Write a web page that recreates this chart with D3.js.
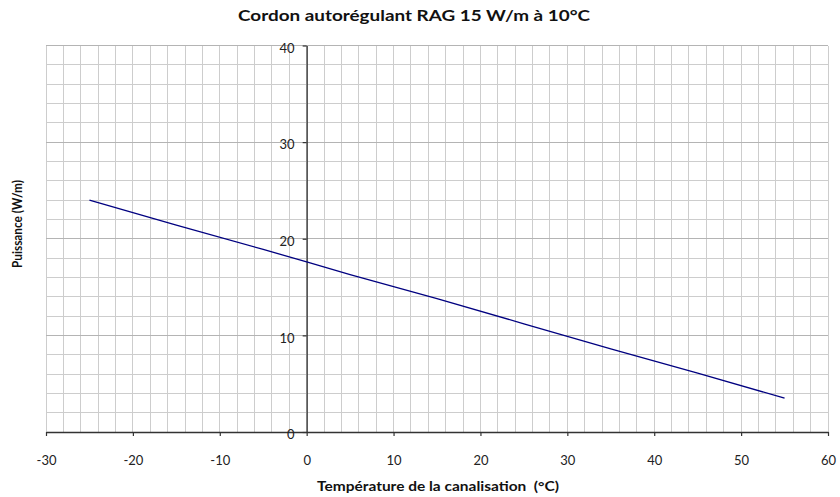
<!DOCTYPE html>
<html><head><meta charset="utf-8">
<script src="https://cdn.jsdelivr.net/npm/d3@7"></script>
<style>body{margin:0;background:#fff}svg{display:block}</style>
</head><body>
<script>
const temps = [-25, -15, -5, 0, 5, 15, 25, 35, 45, 55];
const power = [24.0, 21.4, 18.9, 17.6, 16.3, 13.8, 11.2, 8.6, 6.1, 3.5];
const xTicks = [-30, -20, -10, 0, 10, 20, 30, 40, 50, 60];
const yTicks = [0, 10, 20, 30, 40];
const title = "Cordon autorégulant RAG 15 W/m à 10°C";
const xLabel = "Température de la canalisation\u00a0 (°C)";
const yLabel = "Puissance (W/m)";

const W = 840, H = 497;
const font = "Lato, 'Open Sans', 'Liberation Sans', sans-serif";
const svg = d3.select("body").append("svg").attr("width", W).attr("height", H);
const x = d3.scaleLinear().domain([-30, 60]).range([46, 828]);
const y = d3.scaleLinear().domain([0, 40]).range([432, 45.5]);

const g = svg.append("g");
const xm = d3.range(-30, 61, 2), ym = d3.range(0, 41, 2);
g.selectAll(".vx").data(xm).join("line")
  .attr("x1", d => x(d)).attr("x2", d => x(d)).attr("y1", y(0)).attr("y2", y(40))
  .attr("stroke", "#cdcdcd").attr("stroke-width", 1).attr("shape-rendering", "crispEdges");
g.selectAll(".hy").data(ym).join("line")
  .attr("y1", d => y(d)).attr("y2", d => y(d)).attr("x1", x(-30)).attr("x2", x(60))
  .attr("stroke", d => d % 10 === 0 ? "#b4b4b4" : "#cdcdcd").attr("stroke-width", 1).attr("shape-rendering", "crispEdges");

const fmt = d => String(d);
const xAxis = d3.axisBottom(x).tickValues(xTicks).tickFormat(fmt).tickSize(4).tickSizeOuter(0).tickPadding(20);
const yAxis = d3.axisLeft(y).tickValues(yTicks).tickFormat(fmt).tickSize(4).tickSizeOuter(0).tickPadding(8);
const ax = svg.append("g").attr("transform", `translate(0,${y(0)})`).call(xAxis);
const ay = svg.append("g").attr("transform", `translate(${x(0)},0)`).call(yAxis);
[ax, ay].forEach(a => {
  a.select(".domain").attr("stroke", "#333").attr("stroke-width", 1.3);
  a.selectAll(".tick line").attr("stroke", "#333").attr("stroke-width", 1.2);
  a.selectAll("text").attr("font-family", font).attr("font-size", 13).attr("fill", "#222");
});
ay.selectAll(".tick text").attr("dy", "0.52em");

svg.append("path").datum(temps.map((t, i) => [t, power[i]]))
  .attr("d", d3.line().x(d => x(d[0])).y(d => y(d[1])))
  .attr("fill", "none").attr("stroke", "#000080").attr("stroke-width", 1.3);

svg.append("text").attr("x", 414).attr("y", 21).attr("text-anchor", "middle")
  .attr("font-family", font).attr("font-weight", "bold").attr("font-size", 16).attr("fill", "#111")
  .attr("textLength", 352).attr("lengthAdjust", "spacingAndGlyphs").text(title);
svg.append("text").attr("x", 438).attr("y", 491).attr("text-anchor", "middle")
  .attr("font-family", font).attr("font-weight", "bold").attr("font-size", 12.5).attr("fill", "#111")
  .attr("textLength", 242).attr("lengthAdjust", "spacingAndGlyphs").text(xLabel);
svg.append("text").attr("transform", "translate(22,224) rotate(-90)").attr("text-anchor", "middle")
  .attr("font-family", font).attr("font-weight", "bold").attr("font-size", 13).attr("fill", "#111")
  .attr("textLength", 88).attr("lengthAdjust", "spacingAndGlyphs").text(yLabel);
</script>
</body></html>
